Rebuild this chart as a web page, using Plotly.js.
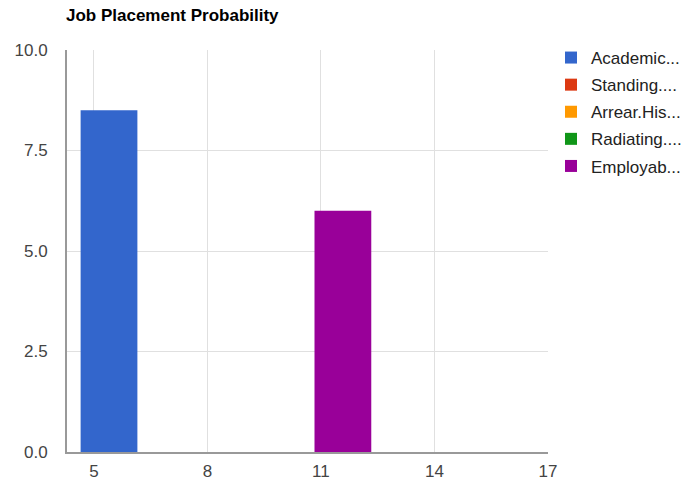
<!DOCTYPE html>
<html>
<head>
<meta charset="utf-8">
<script src="https://cdn.plot.ly/plotly-3.0.1.min.js"></script>
<style>
  html, body { margin: 0; padding: 0; background: #ffffff; }
  #chart { width: 697px; height: 484px; }
</style>
</head>
<body>
<div id="chart"></div>
<script>
// Data
const seriesNames = ["Academic...", "Standing....", "Arrear.His...", "Radiating....", "Employab..."];
const seriesColors = ["#3366cc", "#dc3912", "#ff9900", "#109618", "#990099"];
const xPositions = [5.4, 11.58];
const academic  = [8.5, 0];
const standing  = [0, 0];
const arrear    = [0, 0];
const radiating = [0, 0];
const employab  = [0, 6];
const seriesValues = [academic, standing, arrear, radiating, employab];
const xTicks = [5, 8, 11, 14, 17];
const yTicks = [0, 2.5, 5, 7.5, 10];
const yTickLabels = ["0.0", "2.5", "5.0", "7.5", "10.0"];

const FONT = "Arial, 'Liberation Sans', sans-serif";

const traces = seriesNames.map((name, i) => ({
  type: "bar",
  name: name,
  x: xPositions,
  y: seriesValues[i],
  width: 1.5,
  legendgroup: "g" + i,
  marker: { color: seriesColors[i], line: { width: 0 } },
  hoverinfo: "name+y"
}));

const layout = {
  width: 697,
  height: 484,
  margin: { l: 67, r: 149, t: 50, b: 32, pad: 0 },
  paper_bgcolor: "#ffffff",
  plot_bgcolor: "#ffffff",
  barmode: "overlay",
  title: {
    text: "<b>Job Placement Probability</b>",
    font: { family: FONT, size: 17, color: "#000000" },
    x: 66 / 697,
    xanchor: "left",
    xref: "container",
    y: 1 - 15 / 484,
    yanchor: "middle"
  },
  xaxis: {
    range: [4.29, 17],
    tickvals: xTicks,
    ticktext: xTicks.map(String),
    ticks: "",
    showgrid: true,
    gridcolor: "#e0e0e0",
    gridwidth: 1,
    zeroline: false,
    showline: true,
    linecolor: "#999999",
    linewidth: 2,
    tickfont: { family: FONT, size: 17, color: "#444444" },
    ticklabelstandoff: 3,
    fixedrange: true
  },
  yaxis: {
    range: [0, 10],
    tickvals: yTicks,
    ticktext: yTickLabels,
    ticks: "",
    showgrid: true,
    gridcolor: "#e0e0e0",
    gridwidth: 1,
    zeroline: false,
    showline: true,
    linecolor: "#999999",
    linewidth: 2,
    tickfont: { family: FONT, size: 17, color: "#444444" },
    ticklabelstandoff: 14,
    fixedrange: true
  },
  showlegend: true,
  legend: {
    xref: "container",
    yref: "container",
    x: 551 / 697,
    xanchor: "left",
    y: 1 - 40 / 484,
    yanchor: "top",
    font: { family: FONT, size: 17, color: "#222222" },
    tracegroupgap: 2,
    bgcolor: "rgba(0,0,0,0)",
    borderwidth: 0,
    itemclick: false,
    itemdoubleclick: false
  }
};

Plotly.newPlot("chart", traces, layout, { displayModeBar: false });
</script>
</body>
</html>
